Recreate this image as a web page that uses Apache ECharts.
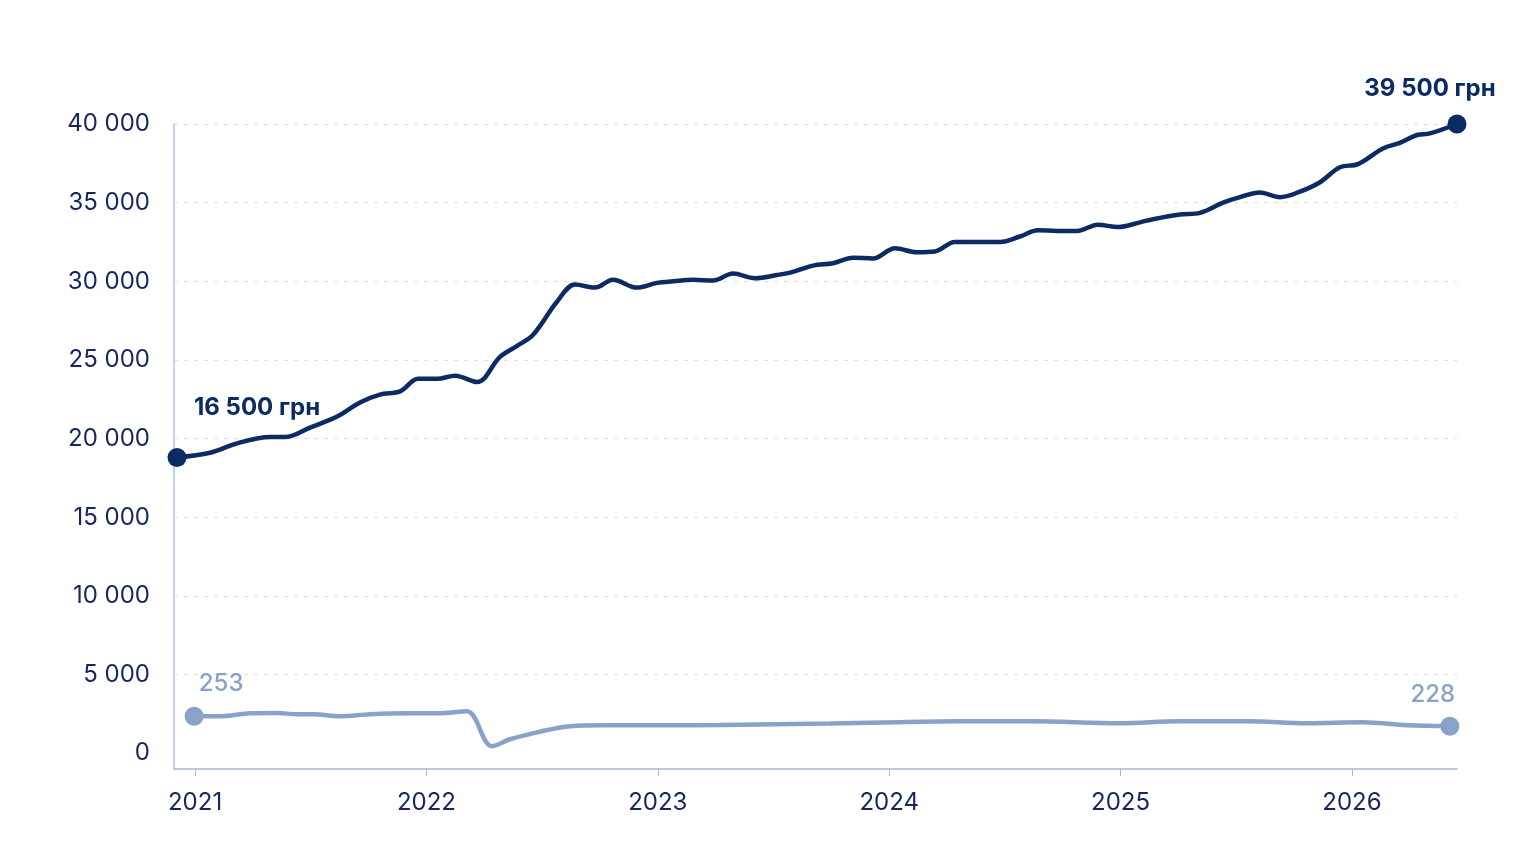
<!DOCTYPE html>
<html>
<head>
<meta charset="utf-8">
<script src="https://cdn.jsdelivr.net/npm/echarts@6/dist/echarts.min.js"></script>
<style>
html,body{margin:0;padding:0;background:#fff;}
#c{width:1536px;height:867px;}
</style>
</head>
<body>
<div id="c"></div>
<script>
// ---- data ----
const yearTicks = [2021, 2022, 2023, 2024, 2025, 2026];
const valueTicks = [0, 5000, 10000, 15000, 20000, 25000, 30000, 35000, 40000];

// dark series: average salary, грн
const salaryX = [2020.922, 2021.065, 2021.182, 2021.324, 2021.389, 2021.497, 2021.614, 2021.713, 2021.799, 2021.886,
  2021.964, 2022.046, 2022.124, 2022.219, 2022.318, 2022.392, 2022.461, 2022.564, 2022.642, 2022.729,
  2022.806, 2022.910, 2022.997, 2023.066, 2023.152, 2023.239, 2023.325, 2023.420, 2023.515, 2023.584,
  2023.671, 2023.757, 2023.844, 2023.930, 2024.025, 2024.120, 2024.198, 2024.284, 2024.379, 2024.479,
  2024.565, 2024.643, 2024.725, 2024.812, 2024.902, 2024.989, 2025.084, 2025.140, 2025.257, 2025.343,
  2025.443, 2025.516, 2025.602, 2025.689, 2025.775, 2025.862, 2025.948, 2026.026, 2026.134, 2026.207,
  2026.281, 2026.337, 2026.454];
const salaryY = [18800, 19100, 19700, 20100, 20100, 20700, 21400, 22300, 22800, 23000,
  23800, 23800, 24000, 23600, 25200, 25900, 26600, 28700, 29800, 29600,
  30100, 29600, 29900, 30000, 30100, 30050, 30500, 30200, 30400, 30600,
  31000, 31150, 31500, 31450, 32100, 31850, 31900, 32500, 32500, 32500,
  32850, 33250, 33200, 33200, 33600, 33450, 33750, 33950, 34250, 34350,
  35000, 35350, 35650, 35350, 35700, 36300, 37250, 37450, 38450, 38800,
  39300, 39400, 40000];

// light series
const otherX = [2020.996, 2021.108, 2021.238, 2021.354, 2021.441, 2021.510, 2021.627, 2021.756, 2021.929, 2022.046,
  2022.175, 2022.283, 2022.361, 2022.478, 2022.621, 2022.763, 2023.010, 2023.269, 2023.744, 2023.973,
  2024.306, 2024.608, 2024.997, 2025.257, 2025.546, 2025.806, 2026.048, 2026.238, 2026.423];
const otherY = [2350, 2350, 2540, 2560, 2480, 2480, 2350, 2480, 2540, 2540,
  2670, 450, 890, 1330, 1720, 1780, 1780, 1800, 1900, 1960,
  2030, 2030, 1910, 2030, 2030, 1910, 1970, 1780, 1720];

const salaryEndLabels = ['16 500 грн', '39 500 грн'];
const otherEndLabels = ['253', '228'];

// ---- chart ----
const DARK = '#0c2a64';
const LIGHT = '#89a2ca';
const TEXT = '#17265c';
const FONT = 'Inter, "Noto Sans", sans-serif';

function fmt(v) {
  return String(v).replace(/\B(?=(\d{3})+(?!\d))/g, ' ');
}
function pairs(xs, ys) { return xs.map((x, i) => [x, ys[i]]); }
function ends(xs, ys) { return [[xs[0], ys[0]], [xs[xs.length - 1], ys[ys.length - 1]]]; }

const chart = echarts.init(document.getElementById('c'), null, { renderer: 'canvas' });
chart.setOption({
  backgroundColor: '#ffffff',
  animation: false,
  textStyle: { fontFamily: FONT },
  grid: { left: 174, right: 79, top: 124, bottom: 98, containLabel: false, outerBoundsMode: 'none' },
  xAxis: {
    type: 'value',
    min: 2020.909,
    max: 2026.454,
    axisLine: { show: true, onZero: false, lineStyle: { color: '#a9b8d6', width: 1.5 } },
    axisTick: { show: true, customValues: yearTicks, length: 7, lineStyle: { color: '#a9b8d6', width: 1 } },
    axisLabel: {
      customValues: yearTicks,
      formatter: v => String(Math.round(v)),
      color: TEXT, fontSize: 24, fontFamily: FONT, margin: 22
    },
    splitLine: { show: false }
  },
  yAxis: {
    type: 'value',
    min: -1000,
    max: 40000,
    axisLine: { show: true, lineStyle: { color: '#b7c3dd', width: 1.5 } },
    axisTick: { show: false, customValues: valueTicks },
    axisLabel: {
      customValues: valueTicks,
      formatter: v => fmt(v),
      color: TEXT, fontSize: 24, fontFamily: FONT, margin: 24
    },
    splitLine: {
      show: true,
      showMinLine: false,
      lineStyle: { color: '#dedede', type: [4, 6], width: 1 }
    }
  },
  series: [
    {
      name: 'Зарплата',
      type: 'line',
      data: pairs(salaryX, salaryY),
      showSymbol: false,
      smooth: 0.35,
      lineStyle: { color: DARK, width: 4.5 },
      z: 3
    },
    {
      name: 'Другий показник',
      type: 'line',
      data: pairs(otherX, otherY),
      showSymbol: false,
      smooth: 0.35,
      lineStyle: { color: LIGHT, width: 4.5 },
      z: 2
    },
    {
      type: 'scatter',
      data: ends(salaryX, salaryY),
      symbol: 'circle',
      symbolSize: 19,
      itemStyle: { color: DARK, opacity: 1 },
      z: 5,
      label: {
        show: true,
        position: 'inside',
        formatter: p => salaryEndLabels[p.dataIndex],
        color: DARK,
        fontFamily: FONT,
        fontSize: 24,
        fontWeight: 700
      },
      labelLayout: p => ({ dx: p.dataIndex === 0 ? 80 : -27, dy: p.dataIndex === 0 ? -50 : -35 })
    },
    {
      type: 'scatter',
      data: ends(otherX, otherY),
      symbol: 'circle',
      symbolSize: 19,
      itemStyle: { color: LIGHT, opacity: 1 },
      z: 4,
      label: {
        show: true,
        position: 'inside',
        formatter: p => otherEndLabels[p.dataIndex],
        color: LIGHT,
        fontFamily: FONT,
        fontSize: 24,
        fontWeight: 500
      },
      labelLayout: p => ({ dx: p.dataIndex === 0 ? 27 : -17, dy: p.dataIndex === 0 ? -33 : -31 })
    }
  ]
});
</script>
</body>
</html>
